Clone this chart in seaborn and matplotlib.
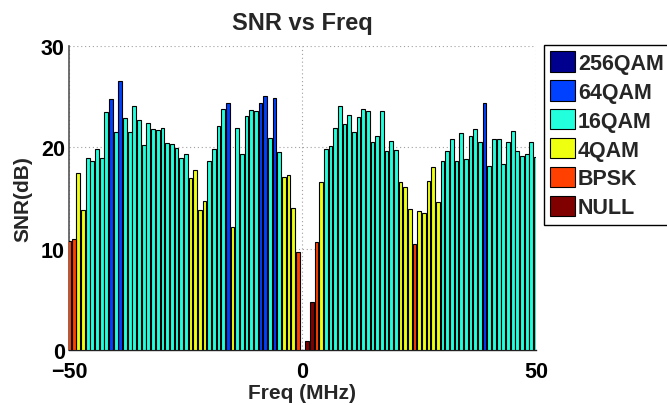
import matplotlib
matplotlib.use("Agg")
import matplotlib.pyplot as plt
from matplotlib.patches import Patch
import seaborn as sns
import pandas as pd

# ---- data ----
freqs = [f for f in range(-50, 51) if f != 0]
snr = [10.8, 11.0, 17.5, 13.8, 18.9, 18.6, 19.8, 18.9, 23.5, 24.8,
       21.5, 26.5, 22.9, 21.5, 24.1, 22.7, 20.2, 22.4, 21.8, 21.7,
       21.9, 20.4, 20.3, 19.9, 18.9, 19.3, 17.0, 17.8, 13.8, 14.7,
       18.6, 19.8, 22.1, 23.8, 24.4, 12.1, 21.9, 19.3, 23.1, 23.7,
       23.6, 24.4, 25.1, 20.9, 24.9, 19.5, 17.1, 17.3, 14.0, 9.7,
       0.85, 4.7, 10.7, 16.6,
       19.8, 20.1, 21.9, 24.1, 22.3, 23.2, 21.5, 23.0, 23.8, 23.6,
       20.5, 21.1, 23.6, 19.6, 20.6, 19.7,
       16.6, 16.1, 13.9, 10.5, 13.7, 13.5, 16.7, 18.1, 14.6,
       18.6, 19.6, 20.8, 18.6, 21.4, 18.8, 21.1, 21.8, 20.5,
       24.4,
       18.2, 20.8, 20.8, 18.4, 20.5, 21.6, 19.6, 19.1, 19.3, 20.5, 19.0]
modulation = (["BPSK"] * 2 + ["4QAM"] * 2 + ["16QAM"] * 5 + ["64QAM"] + ["16QAM"]
              + ["64QAM"] + ["16QAM"] * 14 + ["4QAM"] * 4 + ["16QAM"] * 4
              + ["64QAM"] + ["4QAM"] + ["16QAM"] * 5 + ["64QAM"] * 2 + ["16QAM"]
              + ["64QAM"] + ["16QAM"] + ["4QAM"] * 3 + ["BPSK"]
              + ["NULL"] * 2 + ["BPSK"] + ["4QAM"] + ["16QAM"] * 16
              + ["4QAM"] * 3 + ["BPSK"] + ["4QAM"] * 5 + ["16QAM"] * 9
              + ["64QAM"] + ["16QAM"] * 11)
classes = ["256QAM", "64QAM", "16QAM", "4QAM", "BPSK", "NULL"]
class_colors = ["#00008F", "#0040FF", "#22FFDC", "#EEFF10", "#FF4000", "#800000"]
x_ticks = [-50, 0, 50]
y_ticks = [0, 10, 20, 30]

df = pd.DataFrame({"freq": freqs, "snr": snr, "mod": modulation})
palette = dict(zip(classes, class_colors))

sns.set_theme(style="white")
plt.rcParams["font.family"] = ["Liberation Sans", "DejaVu Sans"]
plt.rcParams["font.weight"] = "bold"

fig = plt.figure(figsize=(6.67, 4.06), dpi=100)
ax = fig.add_axes([0.1034, 0.1355, 0.7002, 0.7488])

sns.barplot(data=df, x="freq", y="snr", hue="mod", hue_order=classes,
            palette=palette, native_scale=True, dodge=False, width=0.8,
            errorbar=None, edgecolor="black", linewidth=0.8, legend=False,
            saturation=1, ax=ax, zorder=3)

ax.set_xlim(-50, 50)
ax.set_ylim(0, 30)
ax.set_xticks(x_ticks)
ax.set_xticklabels(["\u221250", "0", "50"])
ax.set_yticks(y_ticks)
ax.grid(True, linestyle=(0, (1, 2.5)), color="#a0a0a0", linewidth=0.8, zorder=0)
ax.set_axisbelow(True)
for s in ["top", "right"]:
    ax.spines[s].set_visible(False)
ax.spines["left"].set_color("#555555")
ax.spines["left"].set_linewidth(1.2)
ax.spines["bottom"].set_color("#222222")
ax.spines["bottom"].set_linewidth(1.0)
ax.tick_params(axis="both", direction="in", length=4, width=0.8, colors="#555555",
               labelcolor="black", labelsize=15.5)
ax.tick_params(axis="x", pad=8)
ax.tick_params(axis="y", pad=3)
for lab in ax.get_xticklabels() + ax.get_yticklabels():
    lab.set_fontweight("bold")

ax.set_title("SNR vs Freq", fontsize=17, fontweight="bold", pad=12)
ax.set_xlabel("Freq (MHz)", fontsize=15, fontweight="bold", labelpad=1)
ax.set_ylabel("SNR(dB)", fontsize=15, fontweight="bold", labelpad=6)

handles = [Patch(facecolor=c, edgecolor="black", linewidth=0.8) for c in class_colors]
leg = fig.legend(handles, classes, loc="upper left", bbox_to_anchor=(0.8156, 0.887),
                 frameon=True, fancybox=False, edgecolor="black", framealpha=1,
                 prop={"weight": "bold", "size": 15.5}, labelspacing=0.3,
                 handlelength=1.12, handleheight=1.07, handletextpad=0.15,
                 borderpad=0.3, borderaxespad=0)
leg.get_frame().set_linewidth(1.0)

fig.savefig("out.png", dpi=100)
